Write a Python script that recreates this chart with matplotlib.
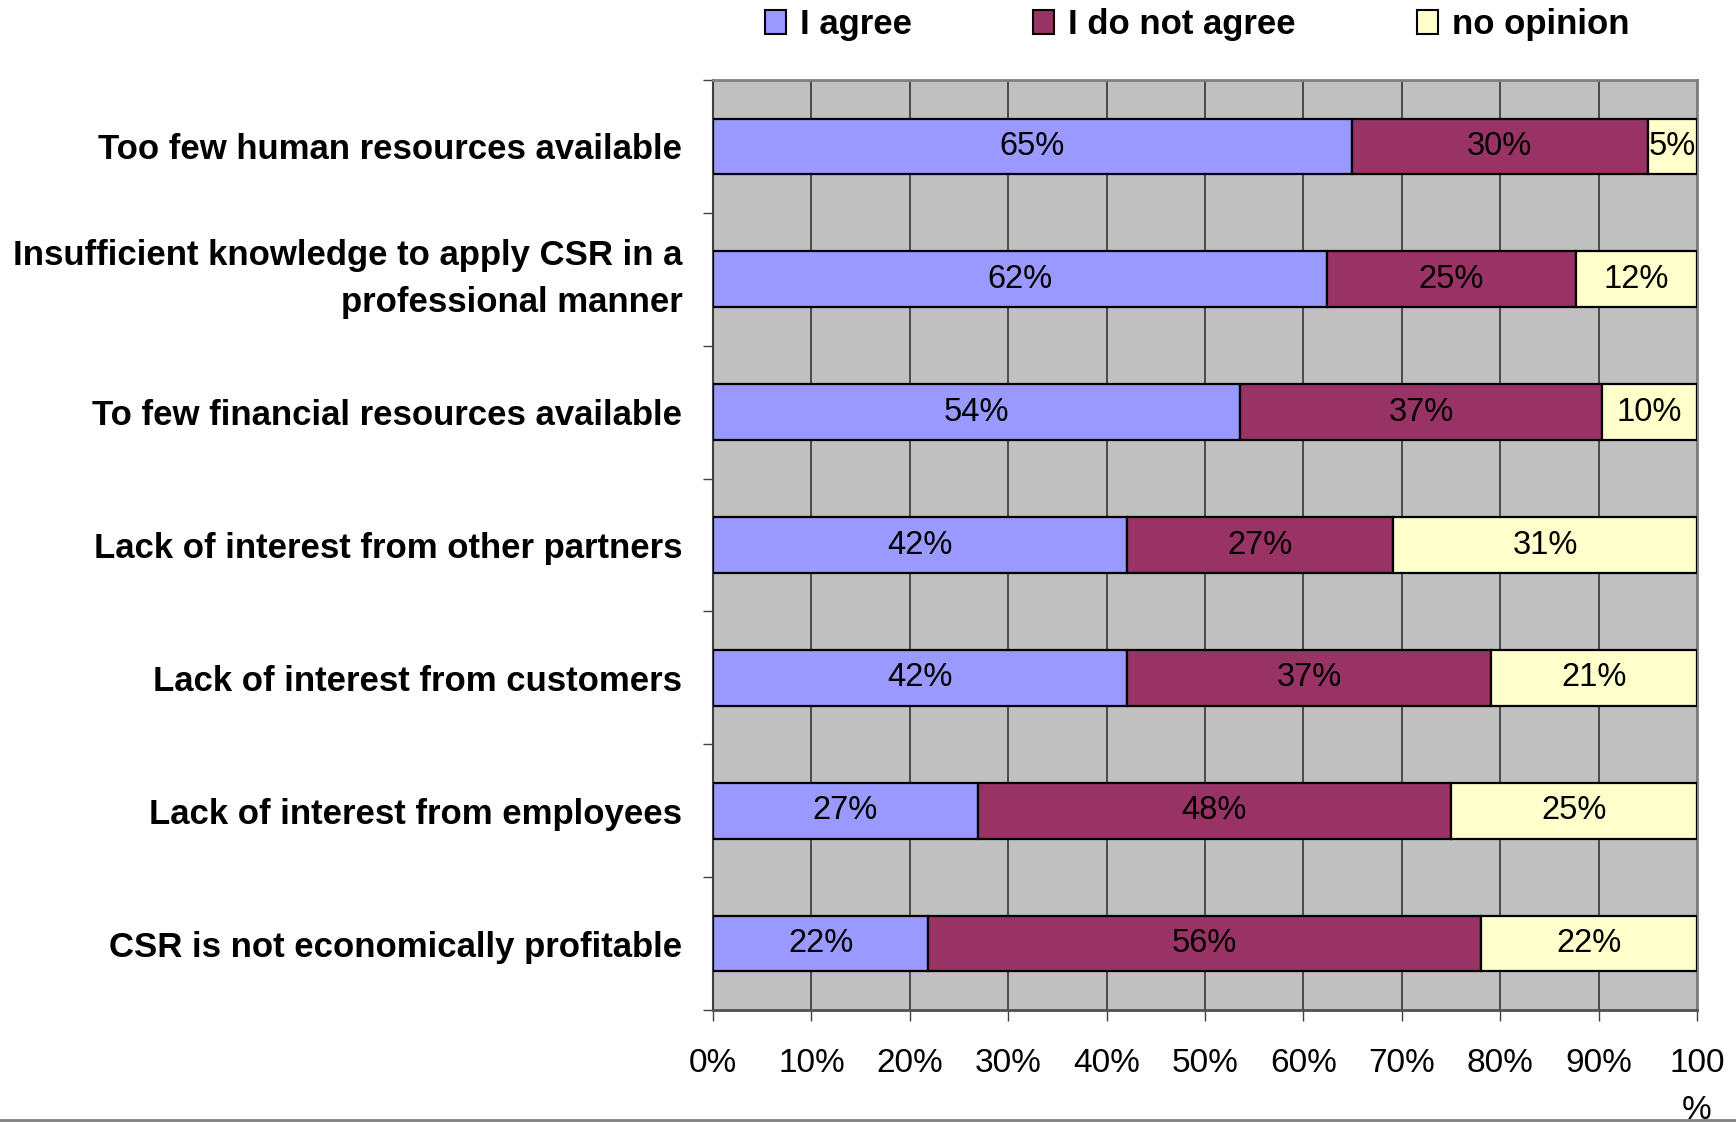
import matplotlib
matplotlib.use("Agg")
from matplotlib import pyplot as plt
from matplotlib.lines import Line2D
from matplotlib.patches import Patch
import numpy as np

plt.rcParams['font.family'] = ['Liberation Sans', 'DejaVu Sans']

categories = [
    "Too few human resources available",
    "Insufficient knowledge to apply CSR in a\nprofessional manner",
    "To few financial resources available",
    "Lack of interest from other partners",
    "Lack of interest from customers",
    "Lack of interest from employees",
    "CSR is not economically profitable",
]
agree = [64.9, 62.4, 53.6, 42.1, 42.1, 26.9, 21.9]
not_agree = [30.1, 25.3, 36.7, 27.0, 37.0, 48.1, 56.1]
no_opinion = [5.0, 12.3, 9.7, 30.9, 20.9, 25.0, 22.0]
series_names = ["I agree", "I do not agree", "no opinion"]
colors = ["#9999FF", "#993366", "#FFFFCC"]
xticks = [0, 10, 20, 30, 40, 50, 60, 70, 80, 90, 100]
xtick_labels = ["0%", "10%", "20%", "30%", "40%", "50%", "60%", "70%", "80%", "90%", "100\n%"]

fig = plt.figure(figsize=(17.36, 11.23), dpi=100)
ax = fig.add_axes([713/1736, 1 - 1010/1123, (1697-713)/1736, (1010-80)/1123])
ax.set_facecolor("#C0C0C0")

y = np.arange(len(categories))
left = np.zeros(len(categories))
for vals, name, col in zip([agree, not_agree, no_opinion], series_names, colors):
    vals = np.array(vals)
    ax.barh(y, vals, left=left, height=0.42, color=col, edgecolor="black",
            linewidth=1.6, label=name, zorder=3)
    for yi, l, v in zip(y, left, vals):
        ax.text(l + v/2, yi, "%.0f%%" % v, ha="center", va="center",
                fontsize=23.5, color="black", zorder=4)
    left = left + vals

ax.set_xlim(0, 100)
ax.set_ylim(len(categories) - 0.5, -0.5)
ax.set_xticks(xticks)
ax.set_xticklabels(xtick_labels, fontsize=24, linespacing=1.7)
ax.set_yticks(y)
ax.set_yticklabels(categories, fontsize=25, fontweight="bold", linespacing=1.55)
for lab in ax.get_yticklabels():
    if "\n" in lab.get_text():
        lab.set_verticalalignment("center")
ax.tick_params(axis="y", length=0, pad=22)
ax.set_yticks(np.arange(len(categories) + 1) - 0.5, minor=True)
ax.tick_params(axis="y", which="minor", length=7, width=1, color="#404040")
ax.tick_params(axis="x", length=8, width=1, color="#404040", pad=19)
ax.xaxis.grid(True, color="#404040", linewidth=1.3, zorder=1)
ax.set_axisbelow(True)

for s in ["top", "right"]:
    ax.spines[s].set_color("#808080")
    ax.spines[s].set_linewidth(2)
ax.spines["left"].set_color("#404040")
ax.spines["left"].set_linewidth(1.5)
ax.spines["bottom"].set_color("#505050")
ax.spines["bottom"].set_linewidth(2)

handles = [Patch(facecolor=c, edgecolor="black", linewidth=1.5) for c in colors]
fig.legend(handles, series_names, loc="center", bbox_to_anchor=(0.6897, 0.978),
           ncol=3, frameon=False, prop={"size": 25, "weight": "bold"},
           handlelength=0.6, handleheight=0.7, handletextpad=0.4, columnspacing=3.5)

fig.add_artist(Line2D([0, 1], [0.003, 0.003], transform=fig.transFigure,
                      color="#808080", linewidth=2))

fig.savefig("out.png", dpi=100)
